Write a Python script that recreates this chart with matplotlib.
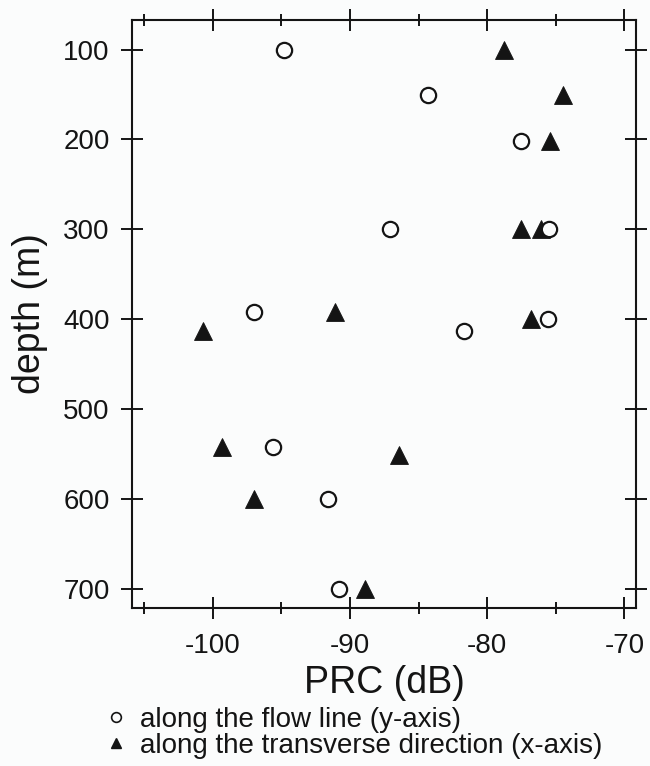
import matplotlib
matplotlib.use("Agg")
import matplotlib.pyplot as plt
from matplotlib.lines import Line2D
from matplotlib.ticker import MultipleLocator

plt.rcParams['font.family'] = ['Liberation Sans', 'DejaVu Sans']
plt.rcParams['axes.unicode_minus'] = False

INK = '#141414'
PAPER = '#fbfcfc'

# PRC (dB) versus depth (m)
flow_prc = [-94.8, -84.3, -77.5, -87.1, -75.5, -97.0, -75.6, -81.7, -95.6, -91.6, -90.8]
flow_depth = [100, 150, 202, 300, 300, 392, 400, 413, 542, 600, 700]

trans_prc = [-78.8, -74.5, -75.4, -77.5, -76.1, -91.1, -76.8, -100.7, -99.3, -86.4, -97.0, -88.9]
trans_depth = [100, 150, 202, 300, 300, 392, 400, 413, 542, 551, 600, 700]

x_ticks = [-100, -90, -80, -70]
y_ticks = [100, 200, 300, 400, 500, 600, 700]

fig = plt.figure(figsize=(6.5, 7.66), dpi=100)
fig.patch.set_facecolor(PAPER)
ax = fig.add_axes([0.2031, 0.2069, 0.7754, 0.767])
ax.set_facecolor(PAPER)

ax.plot(trans_prc, trans_depth, linestyle='none', marker='^', markersize=12.5,
        markerfacecolor=INK, markeredgecolor=INK, markeredgewidth=0.6, zorder=3)
ax.plot(flow_prc, flow_depth, linestyle='none', marker='o', markersize=11,
        markerfacecolor=PAPER, markeredgecolor=INK, markeredgewidth=1.6, zorder=4)

ax.set_xlim(-105.88, -69.15)
ax.set_ylim(721, 67)

ax.set_xticks(x_ticks)
ax.set_yticks(y_ticks)
ax.xaxis.set_minor_locator(MultipleLocator(5))

for s in ax.spines.values():
    s.set_linewidth(1.5)
    s.set_color(INK)

ax.tick_params(which='major', direction='inout', length=16, width=1.4, color=INK,
               labelsize=20, labelcolor=INK, top=True, right=True)
ax.tick_params(which='minor', direction='inout', length=9, width=1.4, color=INK,
               top=True, right=False, left=False)
ax.tick_params(axis='x', which='major', pad=10)
ax.tick_params(axis='y', which='major', pad=8)

ax.set_xlabel('PRC (dB)', fontsize=27, color=INK, labelpad=5)
ax.set_ylabel('depth (m)', fontsize=27, color=INK, labelpad=11)

handles = [
    Line2D([], [], linestyle='none', marker='o', markersize=7,
           markerfacecolor='none', markeredgecolor=INK, markeredgewidth=1.2),
    Line2D([], [], linestyle='none', marker='^', markersize=7,
           markerfacecolor=INK, markeredgecolor=INK),
]
labels = ['along the flow line (y-axis)', 'along the transverse direction (x-axis)']
fig.legend(handles, labels, loc='upper left', bbox_to_anchor=(0.162, 0.077),
           frameon=False, borderpad=0, borderaxespad=0, handlelength=0.8,
           handletextpad=0.45, labelspacing=0.0, fontsize=20, labelcolor=INK)

fig.savefig('out.png', dpi=100, facecolor=fig.get_facecolor())
